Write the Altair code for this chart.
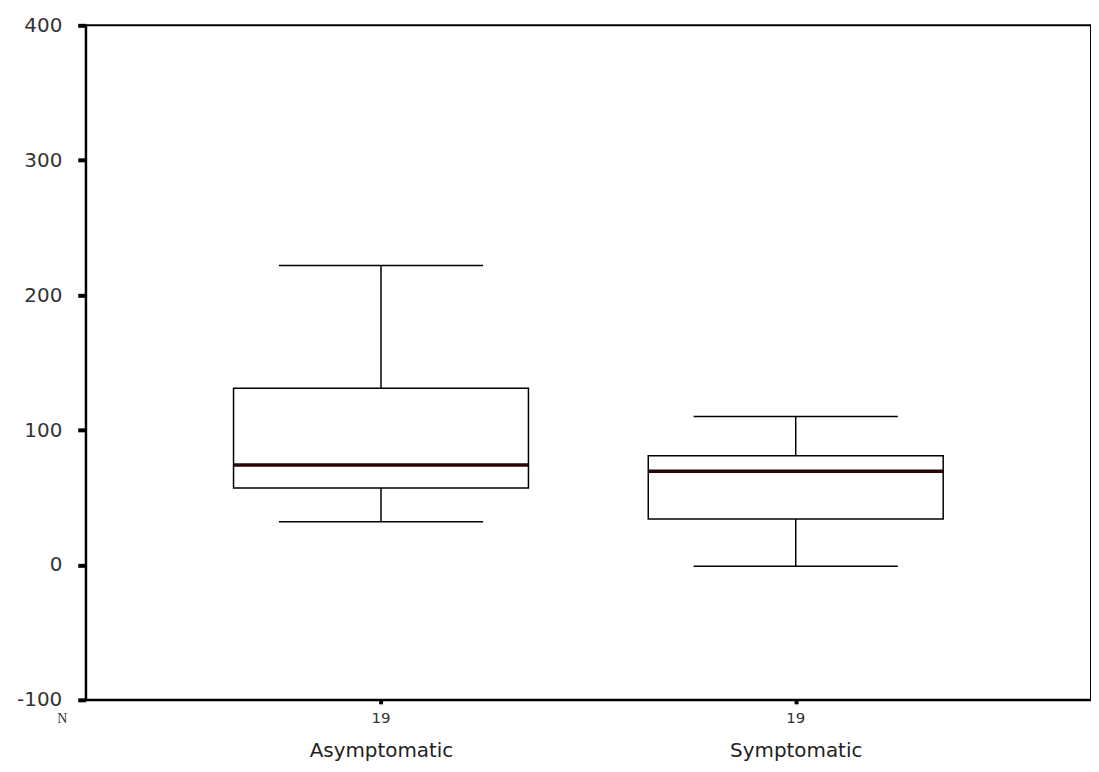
import altair as alt
import pandas as pd

groups = ["Asymptomatic", "Symptomatic"]
n_counts = [19, 19]
lower_whisker = [32, -1]
q1 = [57, 34]
median = [74, 69.5]
q3 = [131, 81]
upper_whisker = [222, 110]

df = pd.DataFrame({
    "group": groups,
    "n": [str(v) for v in n_counts],
    "low": lower_whisker,
    "q1": q1,
    "median": median,
    "q3": q3,
    "high": upper_whisker,
})

W, H = 1009, 677
FONT = "DejaVu Sans"

x = alt.X("group:N", sort=groups,
          scale=alt.Scale(type="point", padding=0.712),
          axis=alt.Axis(title="N", titleX=-24, titleY=19, titleFontSize=14,
                        titleFont="Liberation Serif", titleFontWeight="normal",
                        titleAlign="center", titleBaseline="middle", titleColor="#333",
                        labelAngle=0, labelFontSize=20, labelFont=FONT, labelColor="#222",
                        labelPadding=37, tickSize=4, tickWidth=4, tickColor="#000",
                        domainColor="#000", domainWidth=2))
yscale = alt.Scale(domain=[-100, 400], nice=False, zero=False)
yaxis = alt.Axis(title=None, values=[-100, 0, 100, 200, 300, 400], grid=False,
                 labelExpr="datum.value", labelFontSize=20, labelFont=FONT,
                 labelColor="#333", labelPadding=16,
                 tickSize=8, tickWidth=4, tickColor="#000", domainColor="#000", domainWidth=2)

base = alt.Chart(df)

whisker = base.mark_rule(color="#000", strokeWidth=1.5).encode(
    x=x, y=alt.Y("low:Q", scale=yscale, axis=yaxis), y2="high:Q")
caps_low = base.mark_tick(color="#000", size=205, thickness=1.5, opacity=1).encode(
    x=x, y=alt.Y("low:Q", scale=yscale))
caps_high = base.mark_tick(color="#000", size=205, thickness=1.5, opacity=1).encode(
    x=x, y=alt.Y("high:Q", scale=yscale))
box = base.mark_bar(size=296, fill="#fff", stroke="#000", strokeWidth=1.5, opacity=1).encode(
    x=x, y=alt.Y("q1:Q", scale=yscale), y2="q3:Q")
med = base.mark_tick(color="#2a0505", size=296, thickness=3.5, opacity=1).encode(
    x=x, y=alt.Y("median:Q", scale=yscale))
counts = base.mark_text(fontSize=15, font=FONT, color="#333", baseline="middle").encode(
    x=x, y=alt.value(H + 18), text="n:N")

chart = alt.layer(whisker, caps_low, caps_high, box, med, counts).properties(
    width=W, height=H, padding={"left": 8, "top": 6, "right": 0, "bottom": 0}
).configure(background="#fff").configure_view(stroke="#000", strokeWidth=2)

chart.save("out.html", embed_options={"renderer": "svg", "actions": False})
